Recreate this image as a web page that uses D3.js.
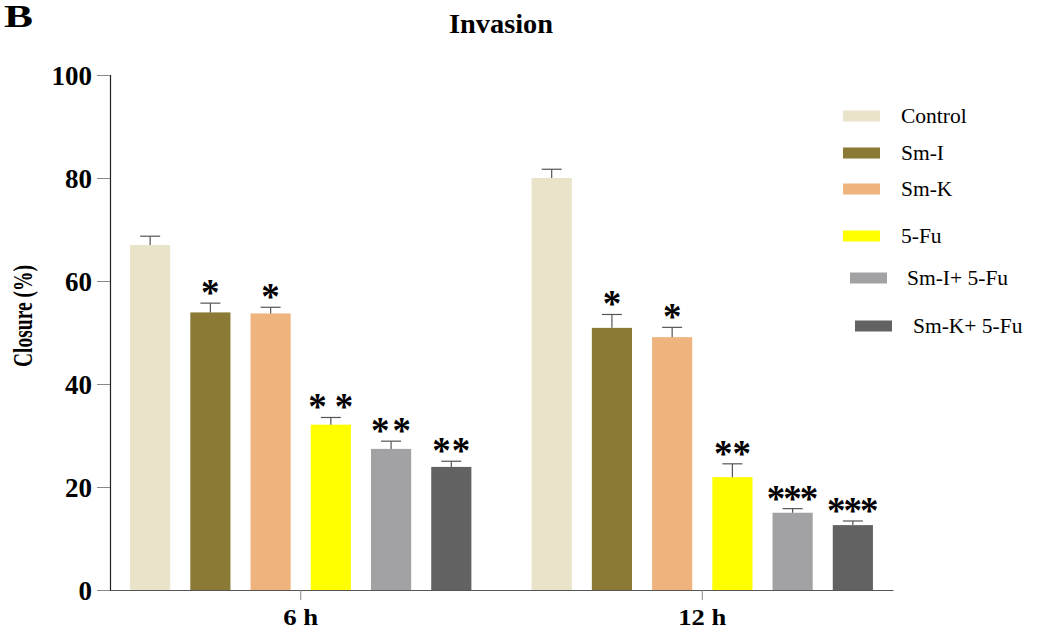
<!DOCTYPE html>
<html>
<head>
<meta charset="utf-8">
<script src="https://cdn.jsdelivr.net/npm/d3@7"></script>
<style>
  html, body { margin: 0; padding: 0; background: #fff; }
  svg { display: block; }
  text { font-family: "Liberation Serif", "Times New Roman", serif; fill: #000; }
</style>
</head>
<body>
<svg id="chart" width="1039" height="632"></svg>
<script>
// Wound closure (%) in the invasion assay, by time point and treatment
const timePoints = ["6 h", "12 h"];
const treatments = ["Control", "Sm-I", "Sm-K", "5-Fu", "Sm-I+ 5-Fu", "Sm-K+ 5-Fu"];
const closure6h  = [67.0, 53.9, 53.7, 32.1, 27.4, 23.9];
const closure12h = [80.0, 50.9, 49.1, 21.9, 15.0, 12.6];
const sem6h  = [1.7, 1.8, 1.2, 1.4, 1.5, 1.1];
const sem12h = [1.7, 2.6, 1.9, 2.6, 0.8, 0.8];
const signif6h  = ["", "*", "*", "**", "**", "**"];
const signif12h = ["", "*", "*", "**", "***", "***"];
const yTicks = [0, 20, 40, 60, 80, 100];

const colors = ["#E9E3C9", "#8A7A35", "#EFB47D", "#FFFF00", "#A2A2A4", "#626262"];
// letter spacing between the stars of each significance mark
const starGap = [[0, 0, 0, 8, 3, 1], [0, 0, 0, 0, -2, -2]];
// legend rows: vertical centre, swatch left, text left
const legendRows = [
  { y: 116, sx: 843, tx: 901 },
  { y: 153, sx: 843, tx: 901 },
  { y: 189, sx: 843, tx: 901 },
  { y: 236, sx: 843, tx: 901 },
  { y: 278, sx: 850, tx: 907 },
  { y: 326, sx: 855, tx: 913 }
];

const rows = timePoints.map((t, i) => ({
  time: t,
  values: [closure6h, closure12h][i],
  sem: [sem6h, sem12h][i],
  sig: [signif6h, signif12h][i],
  gap: starGap[i]
}));

const svg = d3.select("#chart");

const x0 = d3.scaleBand().domain(timePoints).range([110, 893])
  .paddingInner(0.15).paddingOuter(0.05);
const x1 = d3.scaleBand().domain(treatments).range([0, x0.bandwidth()])
  .paddingInner(1 / 3).paddingOuter(0);
const y = d3.scaleLinear().domain([0, 100]).range([590, 75]);

// Bars
const groups = svg.append("g").selectAll("g").data(rows).join("g")
  .attr("transform", d => `translate(${x0(d.time)},0)`);

const items = groups.selectAll("g.item")
  .data(d => treatments.map((name, k) => ({
    name, k, v: d.values[k], e: d.sem[k], sig: d.sig[k], gap: d.gap[k]
  })))
  .join("g").attr("class", "item");

items.append("rect")
  .attr("x", d => x1(d.name))
  .attr("width", x1.bandwidth())
  .attr("y", d => y(d.v))
  .attr("height", d => y(0) - y(d.v))
  .attr("fill", (d) => colors[d.k]);

// Upper error whiskers
items.append("line")
  .attr("x1", d => x1(d.name) + x1.bandwidth() / 2)
  .attr("x2", d => x1(d.name) + x1.bandwidth() / 2)
  .attr("y1", d => y(d.v))
  .attr("y2", d => y(d.v + d.e))
  .attr("stroke", "#555").attr("stroke-width", 1.2);
items.append("line")
  .attr("x1", d => x1(d.name) + x1.bandwidth() / 2 - 10)
  .attr("x2", d => x1(d.name) + x1.bandwidth() / 2 + 10)
  .attr("y1", d => y(d.v + d.e))
  .attr("y2", d => y(d.v + d.e))
  .attr("stroke", "#555").attr("stroke-width", 1.2);

// Significance stars
items.filter(d => d.sig).append("text")
  .attr("x", d => x1(d.name) + x1.bandwidth() / 2 + d.gap / 2)
  .attr("y", d => y(d.v + d.e) + 2)
  .attr("text-anchor", "middle")
  .attr("font-size", 37)
  .attr("font-weight", "bold")
  .attr("letter-spacing", d => d.gap)
  .text(d => d.sig);

// Y axis
const yAxis = svg.append("g").attr("transform", "translate(110,0)")
  .call(d3.axisLeft(y).tickValues(yTicks).tickSize(13).tickPadding(5).tickFormat(d3.format("d")));
yAxis.select(".domain").attr("stroke", "#222").attr("stroke-width", 1.2);
yAxis.selectAll(".tick line").attr("stroke", "#888").attr("stroke-width", 1);
yAxis.selectAll(".tick text")
  .attr("font-family", "'Liberation Serif', 'Times New Roman', serif")
  .attr("font-size", 27).attr("font-weight", "bold").attr("fill", "#000")
  .attr("dy", "0.34em");

// X axis
const xAxis = svg.append("g").attr("transform", "translate(0,590)")
  .call(d3.axisBottom(x0).tickSize(10).tickPadding(9).tickSizeOuter(0));
xAxis.select(".domain").attr("stroke", "#555").attr("stroke-width", 1.2);
xAxis.selectAll(".tick line").attr("stroke", "#888").attr("stroke-width", 1);
xAxis.selectAll(".tick text")
  .attr("font-family", "'Liberation Serif', 'Times New Roman', serif")
  .attr("font-size", 23).attr("font-weight", "bold").attr("fill", "#000")
  .attr("dy", "0.71em")
  .attr("textLength", d => d === "6 h" ? 35 : 48)
  .attr("lengthAdjust", "spacingAndGlyphs");

// Axis title
svg.append("text")
  .attr("transform", "translate(32,316) rotate(-90)")
  .attr("text-anchor", "middle")
  .attr("font-size", 27).attr("font-weight", "bold")
  .attr("textLength", 102).attr("lengthAdjust", "spacingAndGlyphs")
  .text("Closure (%)");

// Chart title and panel letter
svg.append("text")
  .attr("x", 449).attr("y", 33)
  .attr("font-size", 27).attr("font-weight", "bold")
  .attr("textLength", 104).attr("lengthAdjust", "spacingAndGlyphs")
  .text("Invasion");
svg.append("text")
  .attr("x", 4).attr("y", 27)
  .attr("font-size", 31).attr("font-weight", "bold")
  .attr("textLength", 29).attr("lengthAdjust", "spacingAndGlyphs")
  .text("B");

// Legend
const legend = svg.append("g").selectAll("g").data(treatments).join("g");
legend.append("rect")
  .attr("x", (d, i) => legendRows[i].sx)
  .attr("y", (d, i) => legendRows[i].y - 5.5)
  .attr("width", 37).attr("height", 11)
  .attr("fill", (d, i) => colors[i]);
legend.append("text")
  .attr("x", (d, i) => legendRows[i].tx)
  .attr("y", (d, i) => legendRows[i].y + 7)
  .attr("font-size", 21.5)
  .text(d => d);
</script>
</body>
</html>
